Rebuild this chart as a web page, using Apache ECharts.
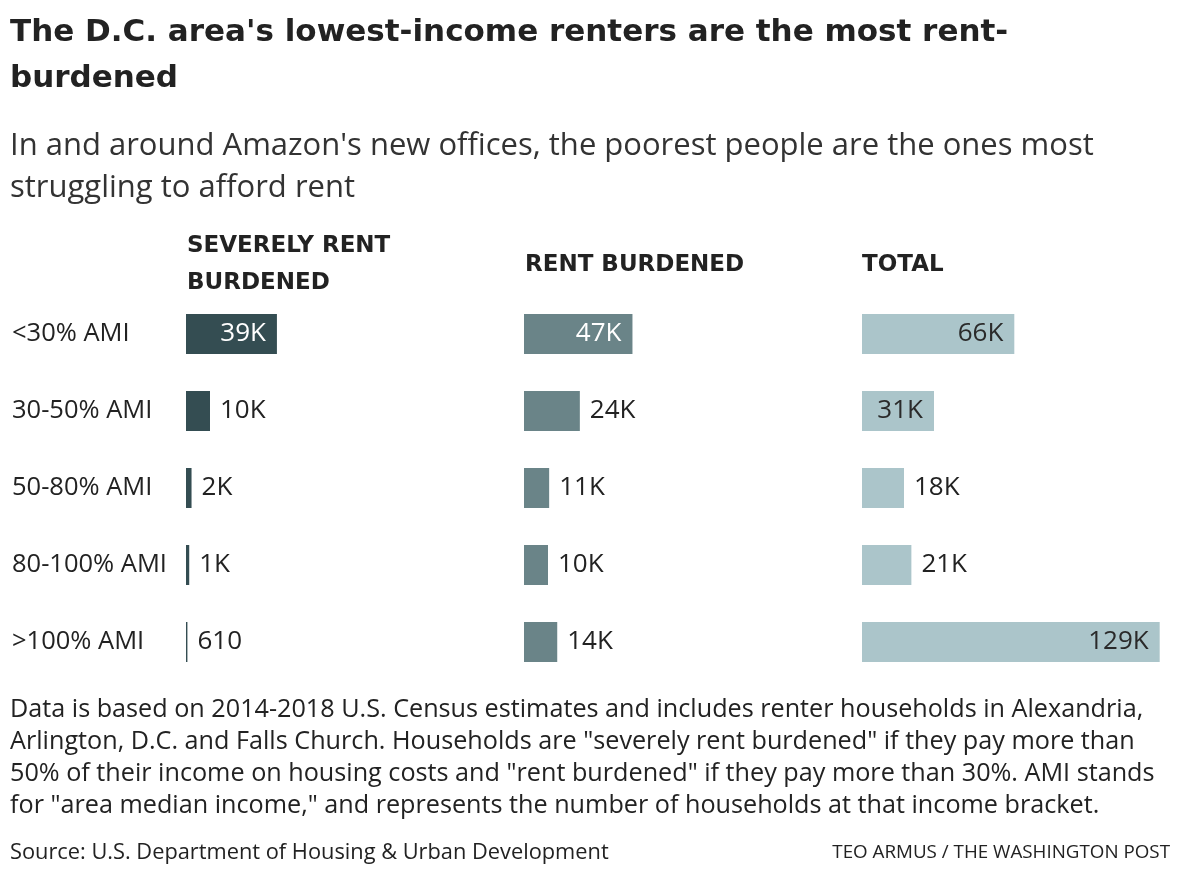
<!DOCTYPE html>
<html>
<head>
<meta charset="utf-8">
<script src="https://cdn.jsdelivr.net/npm/echarts@6/dist/echarts.min.js"></script>
<style>
html,body{margin:0;padding:0;background:#fff;}
#chart{width:1180px;height:878px;}
</style>
</head>
<body>
<div id="chart"></div>
<script>
var categories = ['<30% AMI', '30-50% AMI', '50-80% AMI', '80-100% AMI', '>100% AMI'];
var severelyRentBurdened = [39400, 10400, 2400, 1400, 610];
var rentBurdened = [47000, 24200, 10900, 10400, 14400];
var totalHouseholds = [66000, 31200, 18200, 21400, 129000];
var columnHeaders = ['SEVERELY RENT\nBURDENED', 'RENT BURDENED', 'TOTAL'];

var FONT = '"Open Sans"';
var BOLD = '"DejaVu Sans"';
var TEXT = '#222222';
var colors = ['#344d52', '#6a8488', '#abc5ca'];
var insideText = ['#ffffff', '#ffffff', '#2a2a2a'];
var lefts = [186, 524, 862];
var INSIDE_MIN = 28000;

function fmt(v) { return v >= 1000 ? Math.round(v / 1000) + 'K' : String(v); }

var seriesData = [severelyRentBurdened, rentBurdened, totalHouseholds];

var grids = [], xAxes = [], yAxes = [], series = [];
for (var i = 0; i < 3; i++) {
  grids.push({ left: lefts[i], top: 295.5, width: 300, height: 385 });
  xAxes.push({ type: 'value', gridIndex: i, min: 0, max: 130000, show: false });
  yAxes.push({
    type: 'category', gridIndex: i, data: categories, inverse: true,
    axisLine: { show: false }, axisTick: { show: false }, splitLine: { show: false },
    axisLabel: i === 0 ? { show: true, align: 'left', margin: 174, fontFamily: FONT, fontSize: 25.5, color: TEXT } : { show: false }
  });
  (function (idx) {
    series.push({
      type: 'bar', xAxisIndex: idx, yAxisIndex: idx, barWidth: 40,
      itemStyle: { color: colors[idx] },
      silent: true,
      data: seriesData[idx].map(function (v) {
        var inside = v >= INSIDE_MIN;
        return {
          value: v,
          label: {
            show: true,
            position: inside ? 'insideRight' : 'right',
            distance: inside ? 11 : 10,
            formatter: function (p) { return fmt(p.value); },
            fontFamily: FONT, fontSize: 26,
            color: inside ? insideText[idx] : TEXT
          }
        };
      })
    });
  })(i);
}

var titles = [
  { text: "The D.C. area's lowest-income renters are the most rent-\nburdened", left: 10, top: 10, padding: 0,
    textStyle: { fontFamily: BOLD, fontWeight: 'bold', fontSize: 31, lineHeight: 46, color: TEXT } },
  { text: "In and around Amazon's new offices, the poorest people are the ones most\nstruggling to afford rent", left: 10, top: 125, padding: 0,
    textStyle: { fontFamily: FONT, fontWeight: 'normal', fontSize: 31, lineHeight: 42, color: '#333333' } },
  { text: columnHeaders[0], left: 187, top: 227.5, padding: 0,
    textStyle: { fontFamily: BOLD, fontWeight: 'bold', fontSize: 23, lineHeight: 37, color: TEXT } },
  { text: columnHeaders[1], left: 525, top: 246.5, padding: 0,
    textStyle: { fontFamily: BOLD, fontWeight: 'bold', fontSize: 23, lineHeight: 37, color: TEXT } },
  { text: columnHeaders[2], left: 862, top: 246.5, padding: 0,
    textStyle: { fontFamily: BOLD, fontWeight: 'bold', fontSize: 23, lineHeight: 37, color: TEXT } },
  { text: 'Data is based on 2014-2018 U.S. Census estimates and includes renter households in Alexandria,\nArlington, D.C. and Falls Church. Households are "severely rent burdened" if they pay more than\n50% of their income on housing costs and "rent burdened" if they pay more than 30%. AMI stands\nfor "area median income," and represents the number of households at that income bracket.',
    left: 10, top: 694, padding: 0,
    textStyle: { fontFamily: FONT, fontWeight: 'normal', fontSize: 25.2, lineHeight: 32, color: TEXT } },
  { text: 'Source: U.S. Department of Housing & Urban Development', left: 10, top: 838, padding: 0,
    textStyle: { fontFamily: FONT, fontWeight: 'normal', fontSize: 21.8, lineHeight: 30, color: TEXT } },
  { text: 'TEO ARMUS / THE WASHINGTON POST', right: 10, top: 838, padding: 0,
    textStyle: { fontFamily: FONT, fontWeight: 'normal', fontSize: 18.8, lineHeight: 30, color: TEXT } }
];

var chart = echarts.init(document.getElementById('chart'), null, { renderer: 'canvas' });
chart.setOption({
  backgroundColor: '#ffffff',
  animation: false,
  title: titles,
  grid: grids,
  xAxis: xAxes,
  yAxis: yAxes,
  series: series
});
</script>
</body>
</html>
